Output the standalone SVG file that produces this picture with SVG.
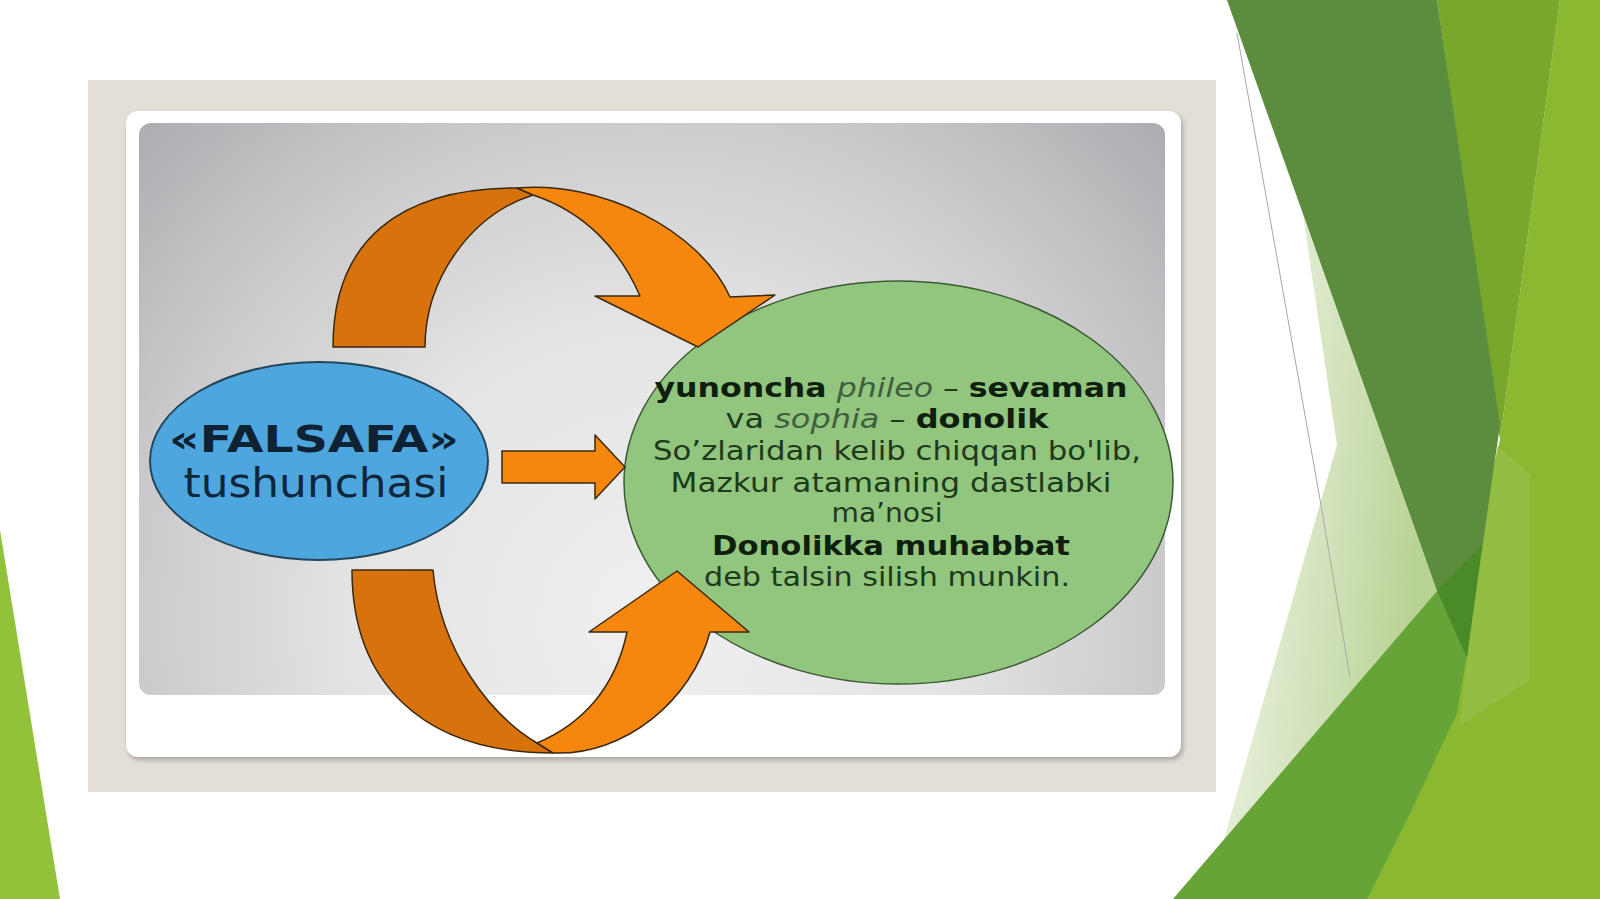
<svg xmlns="http://www.w3.org/2000/svg" width="1600" height="899" viewBox="0 0 1600 899">
<defs>
<style>
.t{font-family:"DejaVu Sans","Liberation Sans",sans-serif;}
.gt{font-family:"DejaVu Sans","Liberation Sans",sans-serif;font-size:26px;fill:#1d3a1b;text-anchor:middle;}
.b{font-weight:bold;fill:#0e200d;}
.it{font-style:italic;fill:#3f5f3c;}
.dark{fill:#d8720c;stroke:#3a2810;stroke-width:1.5;stroke-linejoin:round;}
.light{fill:#f5870f;stroke:#3a2810;stroke-width:1.5;stroke-linejoin:round;}
</style>
<radialGradient id="bgGrad" gradientUnits="userSpaceOnUse" cx="650" cy="620" r="740">
<stop offset="0" stop-color="#f0f0f0"/>
<stop offset="0.4" stop-color="#e4e4e4"/>
<stop offset="0.7" stop-color="#cacacc"/>
<stop offset="1" stop-color="#a8a9ad"/>
</radialGradient>
<linearGradient id="paleGrad" x1="0" y1="0" x2="1" y2="0.3">
<stop offset="0" stop-color="#f4f8ee"/>
<stop offset="0.6" stop-color="#d2e2bb"/>
<stop offset="1" stop-color="#b8d292"/>
</linearGradient>
<filter id="sh" x="-5%" y="-5%" width="110%" height="115%">
<feGaussianBlur stdDeviation="2.5"/>
</filter>
</defs>

<rect x="0" y="0" width="1600" height="899" fill="#ffffff"/>

<g id="decor">
<polygon points="0,530 60,899 0,899" fill="#92c13a"/>
<polygon points="1560,0 1600,0 1600,899 1330,899 1460,600 1500,440" fill="#8ab831"/>
<polygon points="1437,0 1560,0 1500,440" fill="#78a82b"/>
<polygon points="1303,215 1337,445 1223,842 1437,591" fill="url(#paleGrad)"/>
<polyline points="1237,33 1321,505 1350,677" fill="none" stroke="#a7a7a7" stroke-width="1"/>
<polygon points="1227,0 1437,0 1500,425 1467,655 1437,591" fill="#5c8c3e"/>
<polygon points="1497,445 1530,475 1530,680 1460,725 1467,655" fill="#a0c65e" opacity="0.4"/>
<polygon points="1173,899 1437,591 1467,655 1457,713 1413,807 1367,899" fill="#66a438"/>
<polygon points="1437,591 1482,545 1467,658" fill="#4a8a27"/>
</g>

<g id="frame">
<rect x="88" y="80" width="1128" height="712" fill="#e3ded7"/>
<rect x="128" y="114" width="1055" height="646" rx="12" fill="#a9a59f" filter="url(#sh)"/>
<rect x="126" y="111" width="1055" height="646" rx="12" fill="#ffffff"/>
<rect x="139" y="123" width="1026" height="572" rx="12" fill="url(#bgGrad)"/>
</g>

<g id="node-falsafa">
<ellipse cx="319" cy="461" rx="169" ry="99" fill="#4ea6de" stroke="#24465a" stroke-width="2"/>
<text class="t" x="314" y="452" text-anchor="middle" font-size="37" font-weight="bold" fill="#0f2233" textLength="290" lengthAdjust="spacingAndGlyphs">«FALSAFA»</text>
<text class="t" x="316" y="497" text-anchor="middle" font-size="40" fill="#10263a" textLength="265" lengthAdjust="spacingAndGlyphs">tushunchasi</text>
</g>

<g id="node-meaning">
<ellipse cx="898.5" cy="482.5" rx="274.5" ry="201.5" fill="#92c57e" stroke="#3d5a35" stroke-width="1.5"/>
<text class="gt" x="891" y="397" textLength="473" lengthAdjust="spacingAndGlyphs"><tspan class="b">yunoncha</tspan> <tspan class="it">phileo</tspan>  – <tspan class="b">sevaman</tspan></text>
<text class="gt" x="887" y="428" textLength="323" lengthAdjust="spacingAndGlyphs">va <tspan class="it">sophia</tspan>  – <tspan class="b">donolik</tspan></text>
<text class="gt" x="897" y="460" textLength="488" lengthAdjust="spacingAndGlyphs">So’zlaridan  kelib  chiqqan bo'lib,</text>
<text class="gt" x="891" y="492" textLength="441" lengthAdjust="spacingAndGlyphs">Mazkur  atamaning  dastlabki</text>
<text class="gt" x="887" y="522" textLength="111" lengthAdjust="spacingAndGlyphs">ma’nosi</text>
<text class="gt b" x="891" y="555" textLength="358" lengthAdjust="spacingAndGlyphs">Donolikka  muhabbat</text>
<text class="gt" x="887" y="586" textLength="366" lengthAdjust="spacingAndGlyphs">deb  talsin  silish  munkin.</text>
</g>

<g id="connectors">
<g id="arrow-top">
<path class="dark" d="M333,347 C333,240 400,188 517,188 L533,195 C470,215 425,280 425,347 Z"/>
<path class="light" d="M517,188 C600,180 700,230 730,297 L775,295 L698,347 L595,296 L640,296 C620,250 585,212 533,195 Z"/>
</g>
<g id="arrow-middle">
<path class="light" d="M502,451 L595,451 L595,435 L625,467 L595,499 L595,483 L502,483 Z"/>
</g>
<g id="arrow-bottom">
<path class="dark" d="M352,570 L433,570 C440,650 490,715 537,743 L553,753 C420,753 352,680 352,570 Z"/>
<path class="light" d="M553,753 C625,756 692,700 710,632 L749,632 L677,571 L589,632 L627,632 C615,690 580,725 537,743 Z"/>
</g>
</g>
</svg>
